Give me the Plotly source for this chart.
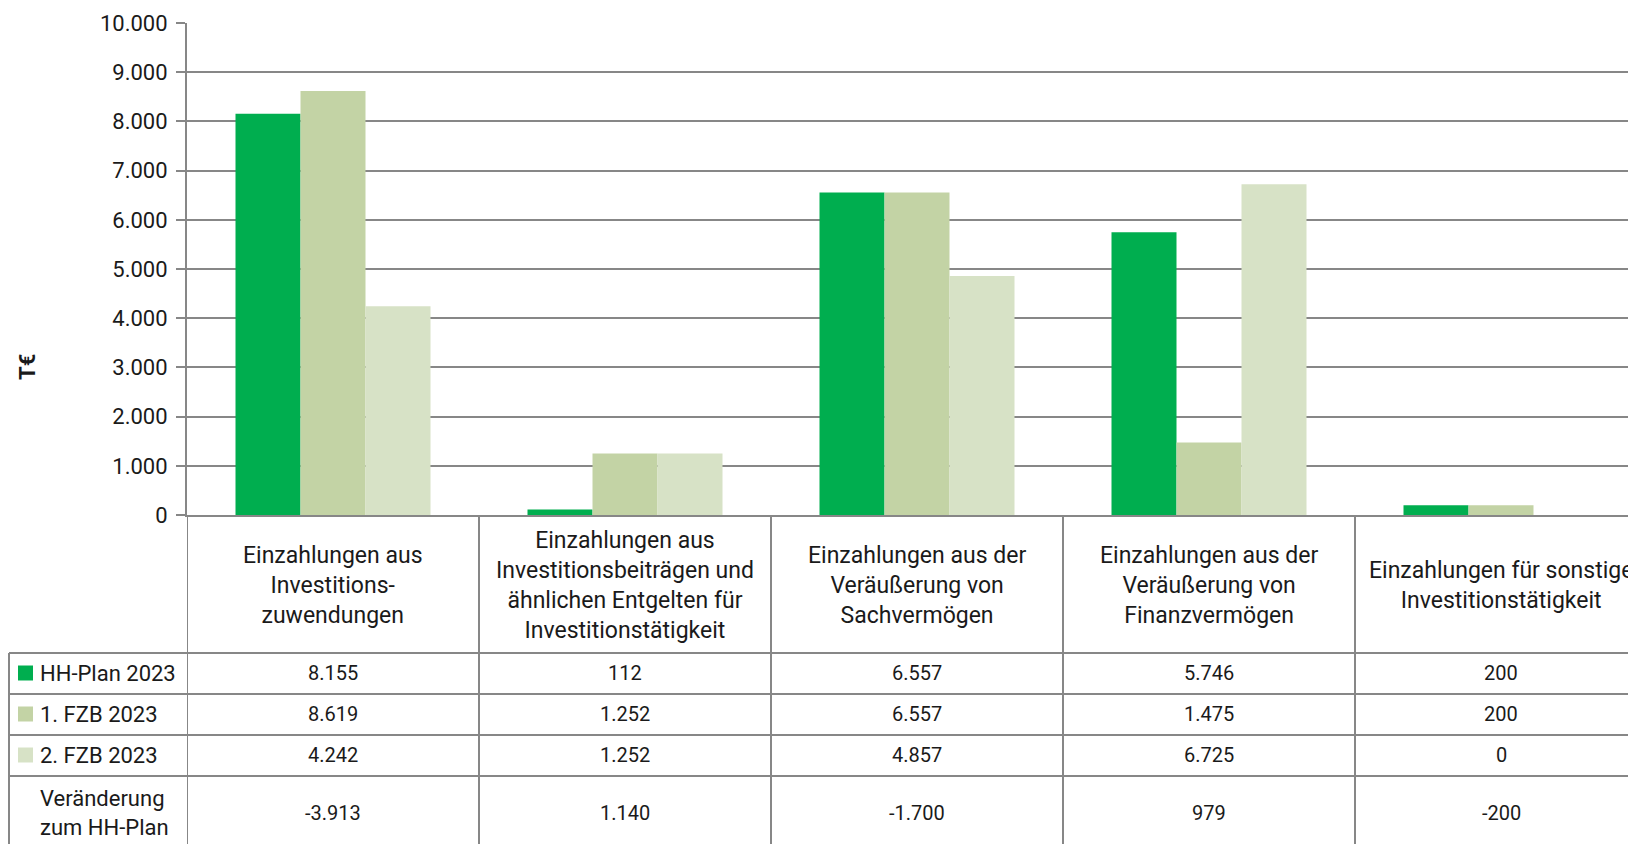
import plotly.graph_objects as go

# Kategorien (Tabellenkopf) und Werte in T€
categories = [
    "Einzahlungen aus<br>Investitions-<br>zuwendungen",
    "Einzahlungen aus<br>Investitionsbeiträgen und<br>ähnlichen Entgelten für<br>Investitionstätigkeit",
    "Einzahlungen aus der<br>Veräußerung von<br>Sachvermögen",
    "Einzahlungen aus der<br>Veräußerung von<br>Finanzvermögen",
    "Einzahlungen für sonstige<br>Investitionstätigkeit",
]
series_names = ["HH-Plan 2023", "1. FZB 2023", "2. FZB 2023"]
hh_plan = [8155, 112, 6557, 5746, 200]
fzb1 = [8619, 1252, 6557, 1475, 200]
fzb2 = [4242, 1252, 4857, 6725, 0]
veraenderung = [-3913, 1140, -1700, 979, -200]
change_label = "Veränderung<br>zum HH-Plan"
y_ticks = list(range(0, 10001, 1000))

colors = ["#00AE4F", "#C3D3A5", "#D7E2C6"]
grid = "#878787"
txt = "#1a1a1a"
FONT = "Roboto"

OFF = 8  # page body margin of the html output
W, H = 1636, 844
L, T = 187 - OFF, 23 - OFF
ZERO = 515 - OFF
B = H - ZERO
PLOT_H = ZERO - T
PLOT_W = W - L
CAT_W = 292


def fmt(v):
    return f"{v:,}".replace(",", ".")


def py(pix):
    # screen row -> paper y
    return (ZERO - (pix - OFF)) / PLOT_H


def px(pix):
    # screen column -> paper x
    return (pix - OFF - L) / PLOT_W


x_idx = list(range(len(categories)))
fig = go.Figure()
for name, vals, c in zip(series_names, [hh_plan, fzb1, fzb2], colors):
    fig.add_trace(go.Bar(x=x_idx, y=vals, name=name, marker=dict(color=c, line=dict(width=0)),
                         hoverinfo="skip"))

shapes = []
annotations = []
line = dict(color=grid, width=2)

# table horizontal lines
row_edges = [653, 694, 735, 776]
for r in row_edges:
    shapes.append(dict(type="line", xref="paper", yref="paper", x0=px(9), x1=1, y0=py(r), y1=py(r), line=line))
# left border of legend column
shapes.append(dict(type="line", xref="paper", yref="paper", x0=px(9), x1=px(9), y0=py(653), y1=py(H + 20), line=line))
# column separators
for k in range(len(categories)):
    shapes.append(dict(type="line", xref="x", yref="paper", x0=k - 0.5, x1=k - 0.5,
                       y0=0, y1=py(H + 20), line=line))

# header texts
for k, cat in enumerate(categories):
    annotations.append(dict(x=k, y=py(585), xref="x", yref="paper", text=cat, showarrow=False,
                            font=dict(size=23, color=txt, family=FONT), align="center",
                            xanchor="center", yanchor="middle"))

row_centers = [673, 714, 755, 813]
for i, (name, vals, c) in enumerate(zip(series_names, [hh_plan, fzb1, fzb2], colors)):
    yc = row_centers[i]
    shapes.append(dict(type="rect", xref="paper", yref="paper", x0=px(18), x1=px(33),
                       y0=py(yc - 7.5), y1=py(yc + 7.5), fillcolor=c, line=dict(width=0)))
    annotations.append(dict(x=px(38), y=py(yc), xref="paper", yref="paper", text=name, showarrow=False,
                            font=dict(size=22, color=txt, family=FONT), xanchor="left", yanchor="middle"))
    for k, v in enumerate(vals):
        annotations.append(dict(x=k, y=py(yc), xref="x", yref="paper", text=fmt(v), showarrow=False,
                                font=dict(size=20, color=txt, family=FONT), xanchor="center", yanchor="middle"))

annotations.append(dict(x=px(38), y=py(row_centers[3]), xref="paper", yref="paper", text=change_label,
                        showarrow=False, align="left", font=dict(size=22, color=txt, family=FONT),
                        xanchor="left", yanchor="middle"))
for k, v in enumerate(veraenderung):
    annotations.append(dict(x=k, y=py(row_centers[3]), xref="x", yref="paper", text=fmt(v), showarrow=False,
                            font=dict(size=20, color=txt, family=FONT), xanchor="center", yanchor="middle"))

# axis title
annotations.append(dict(x=px(27), y=py(367), xref="paper", yref="paper", text="<b>T€</b>", showarrow=False,
                        textangle=-90, font=dict(size=22, color=txt, family=FONT),
                        xanchor="center", yanchor="middle"))

fig.update_layout(
    width=W, height=H,
    margin=dict(l=L, r=0, t=T, b=B, pad=0),
    paper_bgcolor="white", plot_bgcolor="white",
    barmode="group", bargap=1 - 195 / CAT_W, bargroupgap=0,
    showlegend=False,
    font=dict(family=FONT, size=22, color=txt),
    xaxis=dict(range=[-0.5, -0.5 + PLOT_W / CAT_W], showticklabels=False, ticks="", showgrid=False,
               showline=True, linecolor=grid, linewidth=2, zeroline=False, fixedrange=True),
    yaxis=dict(range=[0, 10000], tickvals=y_ticks, ticktext=[fmt(v) for v in y_ticks],
               showgrid=True, gridcolor=grid, gridwidth=2, showline=True, linecolor=grid, linewidth=2,
               ticks="outside", ticklen=9, tickcolor=grid, tickwidth=2, zeroline=False,
               tickfont=dict(size=22, color=txt, family=FONT), ticklabelstandoff=4, fixedrange=True),
    shapes=shapes,
    annotations=annotations,
)

fig.write_html("out.html")
